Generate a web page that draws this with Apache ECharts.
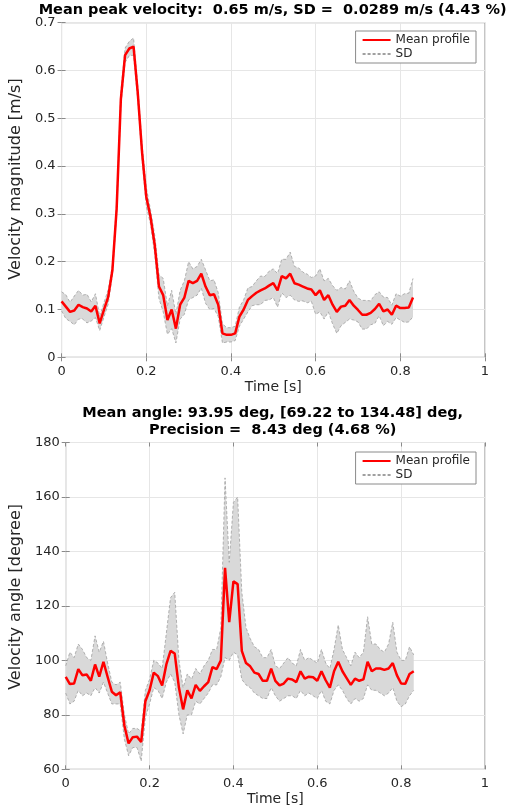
<!DOCTYPE html>
<html>
<head>
<meta charset="utf-8">
<script src="https://cdn.jsdelivr.net/npm/echarts@6/dist/echarts.min.js"></script>
<style>html,body{margin:0;padding:0;background:#fff}#c{width:520px;height:808px}</style>
</head>
<body>
<div id="c"></div>
<script>
const times = [0.00,0.01,0.02,0.03,0.04,0.05,0.06,0.07,0.08,0.09,
0.10,0.11,0.12,0.13,0.14,0.15,0.16,0.17,0.18,0.19,
0.20,0.21,0.22,0.23,0.24,0.25,0.26,0.27,0.28,0.29,
0.30,0.31,0.32,0.33,0.34,0.35,0.36,0.37,0.38,0.39,
0.40,0.41,0.42,0.43,0.44,0.45,0.46,0.47,0.48,0.49,
0.50,0.51,0.52,0.53,0.54,0.55,0.56,0.57,0.58,0.59,
0.60,0.61,0.62,0.63,0.64,0.65,0.66,0.67,0.68,0.69,
0.70,0.71,0.72,0.73,0.74,0.75,0.76,0.77,0.78,0.79,
0.80,0.81,0.82,0.83];

const velMean = [0.117,0.106,0.095,0.098,0.110,0.105,0.102,0.096,0.108,0.071,
0.099,0.126,0.182,0.310,0.540,0.632,0.646,0.650,0.552,0.430,
0.336,0.294,0.235,0.148,0.130,0.078,0.100,0.060,0.110,0.125,
0.160,0.155,0.160,0.175,0.148,0.130,0.132,0.110,0.050,0.047,
0.047,0.050,0.085,0.100,0.120,0.128,0.135,0.140,0.144,0.150,
0.155,0.140,0.170,0.165,0.175,0.155,0.152,0.148,0.144,0.142,
0.130,0.140,0.120,0.130,0.110,0.095,0.106,0.108,0.120,0.108,
0.099,0.089,0.089,0.093,0.101,0.112,0.096,0.100,0.089,0.108,
0.103,0.103,0.104,0.125];

const velSD = [0.020,0.025,0.020,0.030,0.030,0.025,0.030,0.020,0.025,0.015,
0.015,0.015,0.010,0.012,0.015,0.015,0.015,0.018,0.015,0.015,
0.020,0.015,0.020,0.025,0.035,0.030,0.040,0.030,0.030,0.035,
0.040,0.030,0.030,0.030,0.035,0.030,0.030,0.025,0.020,0.015,
0.015,0.015,0.020,0.020,0.025,0.020,0.025,0.030,0.025,0.030,
0.030,0.035,0.035,0.040,0.045,0.035,0.035,0.030,0.030,0.025,
0.040,0.045,0.040,0.035,0.040,0.045,0.040,0.035,0.040,0.030,
0.025,0.030,0.030,0.025,0.030,0.025,0.030,0.025,0.020,0.025,
0.025,0.030,0.030,0.040];

const angMean = [93.9,91.3,91.5,96.8,94.5,94.8,92.5,98.5,94.0,99.5,
93.9,88.5,87.2,88.3,76.0,69.5,71.8,72.0,70.0,85.0,
89.0,95.5,94.2,90.8,98.5,103.5,102.5,90.0,82.0,89.0,
86.0,91.0,88.8,90.5,92.0,97.5,96.8,100.0,134.0,114.0,
129.0,128.0,103.5,99.0,97.8,95.5,95.0,92.5,92.5,97.0,
92.5,90.8,91.5,93.3,93.0,92.0,96.0,93.3,94.0,93.8,
92.5,96.0,92.7,90.0,96.0,99.5,96.0,93.5,91.0,93.3,
92.5,93.0,99.5,96.0,97.0,97.0,96.5,97.0,99.0,94.5,
91.5,91.4,95.0,96.0];

const angUpper = [98,103,101,106,104,101,100,109,103,107,
99,92,91,92,80,73,75,75,74,89,
93,100,99,97,110,123,125,100,90,95,
93,97,95,98,100,104,104,112,167,136,
158,160,125,112,108,105,104,101,101,104,
98,97,99,101,99,98,104,100,101,100,
99,104,99,97,104,113,104,101,98,103,
101,103,116,106,106,104,103,106,114,103,
100,100,105,102];

const angLower = [88,84,85,89,87,88,87,90,88,92,
88,84,84,84,71,65,68,68,63,79,
84,90,89,86,92,95,92,80,73,80,
80,85,84,86,88,91,91,94,101,100,
103,102,93,91,90,88,87,86,86,90,
87,85,86,87,87,86,89,87,88,87,
86,89,85,84,89,91,89,86,84,86,
85,86,91,89,89,88,87,88,90,85,
83,84,87,89];

const xTicks = [0, 0.2, 0.4, 0.6, 0.8, 1];

const FONT = 'DejaVu Sans';
const TXT = '#262626';
const BOX = '#8a8a8a';

const velUpper = velMean.map((m, i) => m + velSD[i]);
const velLower = velMean.map((m, i) => m - velSD[i]);

function pairs(ys) { return times.map((t, i) => [t, ys[i]]); }

function band(lo, hi, xi, yi) {
  return {
    type: 'custom', xAxisIndex: xi, yAxisIndex: yi, silent: true, z: 1,
    clip: true,
    data: times.map((t, i) => [t, lo[i], hi[i]]),
    encode: { x: 0, y: [1, 2] },
    renderItem: function (params, api) {
      if (params.dataIndex !== 0) return null;
      const pts = [];
      for (let i = 0; i < times.length; i++) pts.push(api.coord([times[i], hi[i]]));
      for (let i = times.length - 1; i >= 0; i--) pts.push(api.coord([times[i], lo[i]]));
      return { type: 'polygon', shape: { points: pts }, style: { fill: '#d9d9d9', stroke: null } };
    }
  };
}

function edge(name, ys, xi, yi) {
  return {
    type: 'line', name: name, xAxisIndex: xi, yAxisIndex: yi, data: pairs(ys),
    symbol: 'none', silent: true, z: 2,
    itemStyle: { color: '#a0a0a0' },
    lineStyle: { color: '#a0a0a0', width: 0.8, type: [3, 2] }
  };
}

function meanLine(ys, xi, yi) {
  return {
    type: 'line', name: 'Mean profile', xAxisIndex: xi, yAxisIndex: yi, data: pairs(ys),
    symbol: 'none', silent: true, z: 3,
    itemStyle: { color: '#ff0000' },
    lineStyle: { color: '#ff0000', width: 2.5 }
  };
}

function xAx(gi, bottom, withName) {
  return {
    type: 'value', gridIndex: gi, min: 0, max: 1, interval: 0.2,
    position: bottom ? 'bottom' : 'top',
    name: withName ? 'Time [s]' : '', nameLocation: 'middle', nameGap: 23,
    nameTextStyle: { fontFamily: FONT, fontSize: 14, color: TXT },
    axisLine: { show: false },
    axisTick: { show: true, inside: true, length: 4, lineStyle: { color: BOX } },
    axisLabel: { show: bottom, margin: 8, fontFamily: FONT, fontSize: 13, color: TXT,
      formatter: v => String(v) },
    splitLine: { show: bottom, lineStyle: { color: '#e6e6e6', width: 1 } }
  };
}

function yAx(gi, left, min, max, interval, name, shift) {
  return {
    type: 'value', gridIndex: gi, min: min, max: max, interval: interval,
    position: left ? 'left' : 'right',
    name: left ? name : '', nameLocation: 'middle', nameGap: 23, nameRotate: 90,
    nameTextStyle: { fontFamily: FONT, fontSize: 16, color: TXT, padding: [0, 0, 0, shift || 0] },
    axisLine: { show: false },
    axisTick: { show: true, inside: true, length: 4, lineStyle: { color: BOX } },
    axisLabel: { show: left, margin: 6, fontFamily: FONT, fontSize: 13, color: TXT,
      formatter: v => String(Math.round(v * 1000) / 1000) },
    splitLine: { show: left, lineStyle: { color: '#e6e6e6', width: 1 } }
  };
}

function legend(top) {
  return {
    right: 44, top: top, orient: 'vertical', itemWidth: 28, itemHeight: 14, itemGap: 2,
    padding: [3, 6, 3, 6], borderColor: BOX, borderWidth: 1, backgroundColor: '#fff',
    borderRadius: 0, selectedMode: false,
    itemStyle: { opacity: 0 },
    data: ['Mean profile', 'SD'],
    textStyle: { fontFamily: FONT, fontSize: 12, color: TXT }
  };
}

const chart = echarts.init(document.getElementById('c'), null, { renderer: 'canvas' });
chart.setOption({
  backgroundColor: '#fff',
  animation: false,
  title: [
    { text: 'Mean peak velocity:  0.65 m/s, SD =  0.0289 m/s (4.43 %)', left: 272.7, top: 2, padding: 0, textAlign: 'center',
      textStyle: { fontFamily: FONT, fontSize: 14.5, fontWeight: 'bold', color: '#000', lineHeight: 17 } },
    { text: 'Mean angle: 93.95 deg, [69.22 to 134.48] deg,\nPrecision =  8.43 deg (4.68 %)', left: 272.7, top: 405, padding: 0, textAlign: 'center',
      textStyle: { fontFamily: FONT, fontSize: 14.5, fontWeight: 'bold', color: '#000', lineHeight: 17 } }
  ],
  legend: [legend(31), legend(452)],
  grid: [
    { left: 60.5, right: 35, top: 22.7, height: 334.6, show: true, borderColor: BOX, borderWidth: 1, backgroundColor: 'transparent' },
    { left: 60.5, right: 35, top: 442.5, height: 326.8, show: true, borderColor: BOX, borderWidth: 1, backgroundColor: 'transparent' }
  ],
  xAxis: [xAx(0, true, true), xAx(0, false, false), xAx(1, true, true), xAx(1, false, false)],
  yAxis: [
    yAx(0, true, 0, 0.7, 0.1, 'Velocity magnitude [m/s]', 22), yAx(0, false, 0, 0.7, 0.1, ''),
    yAx(1, true, 60, 180, 20, 'Velocity angle [degree]', 18), yAx(1, false, 60, 180, 20, '')
  ],
  series: [
    band(velLower, velUpper, 0, 0),
    edge('SD', velUpper, 0, 0),
    edge('SD low', velLower, 0, 0),
    meanLine(velMean, 0, 0),
    band(angLower, angUpper, 2, 2),
    edge('SD', angUpper, 2, 2),
    edge('SD low', angLower, 2, 2),
    meanLine(angMean, 2, 2)
  ]
});
</script>
</body>
</html>
